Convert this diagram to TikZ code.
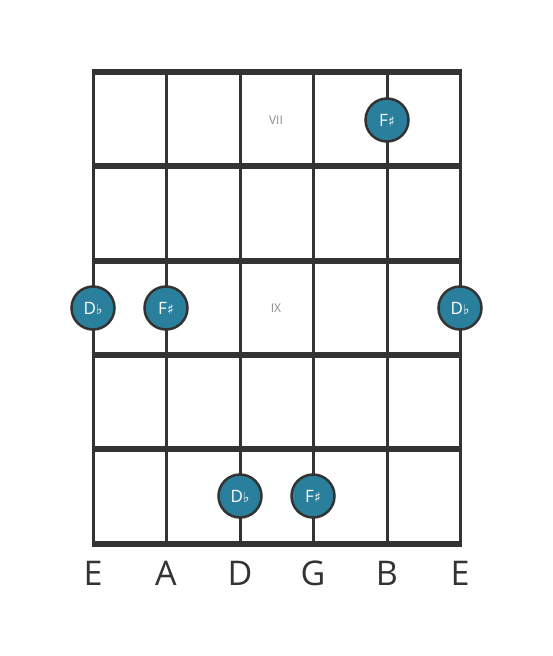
\documentclass[tikz,border=0pt]{standalone}
\usepackage{fontspec}
\setmainfont{Open Sans}
\newfontfamily\symfont{DejaVu Sans}
\usepackage{tikz}
\usetikzlibrary{positioning}

\definecolor{notefill}{HTML}{2A7F9C}
\definecolor{gridline}{HTML}{333333}
\newcommand{\fl}{{\symfont\fontsize{14}{14}\selectfont ♭}}
\newcommand{\sh}{{\symfont\fontsize{14}{14}\selectfont ♯}}

\begin{document}
\begin{tikzpicture}[x=1pt, y=-1pt, every node/.style={align=center}]
    \useasboundingbox[fill=white] (0,0) rectangle (553,656);

    % Strings
    \draw[gridline, line width=3pt] (93,72) -- (93,544);
    \draw[gridline, line width=3pt] (166,72) -- (166,544);
    \draw[gridline, line width=3pt] (240,72) -- (240,544);
    \draw[gridline, line width=3pt] (313,72) -- (313,544);
    \draw[gridline, line width=3pt] (387,72) -- (387,544);
    \draw[gridline, line width=3pt] (460,72) -- (460,544);

    % Frets
    \draw[gridline, line width=5.5pt] (91.5,72) -- (461.5,72);
    \draw[gridline, line width=5.5pt] (91.5,166) -- (461.5,166);
    \draw[gridline, line width=5.5pt] (91.5,261) -- (461.5,261);
    \draw[gridline, line width=5.5pt] (91.5,355) -- (461.5,355);
    \draw[gridline, line width=5.5pt] (91.5,449) -- (461.5,449);
    \draw[gridline, line width=5.5pt] (91.5,544) -- (461.5,544);

    % Fret markers
    \node[text=gray!90, font=\fontsize{12}{12}\selectfont] (seventh) at (276,120) {VII};
    \node[text=gray!90, font=\fontsize{12}{12}\selectfont] (ninth) at (276,308) {IX};

    % Notes
    \tikzset{note/.style={draw=gridline, line width=2.5pt, circle, fill=notefill, minimum size=43pt, inner sep=0pt, text=white, font=\fontsize{17}{17}\selectfont}}
    \node[note] (fsharpB) at (387,120) {F\sh};
    \node[note] (dflatE) at (93,308) {D\fl};
    \node[note] (fsharpA) at (166,308) {F\sh};
    \node[note] (dflatHighE) at (460,308) {D\fl};
    \node[note] (dflatD) at (240,496) {D\fl};
    \node[note] (fsharpG) at (313,496) {F\sh};

    % String names
    \tikzset{stringname/.style={text=gridline, font=\fontsize{34}{34}\selectfont}}
    \node[stringname] (lowE) at (93,573) {E};
    \node[stringname] (nameA) at (166,573) {A};
    \node[stringname] (nameD) at (240,573) {D};
    \node[stringname] (nameG) at (313,573) {G};
    \node[stringname] (nameB) at (387,573) {B};
    \node[stringname] (highE) at (460,573) {E};
\end{tikzpicture}
\end{document}
